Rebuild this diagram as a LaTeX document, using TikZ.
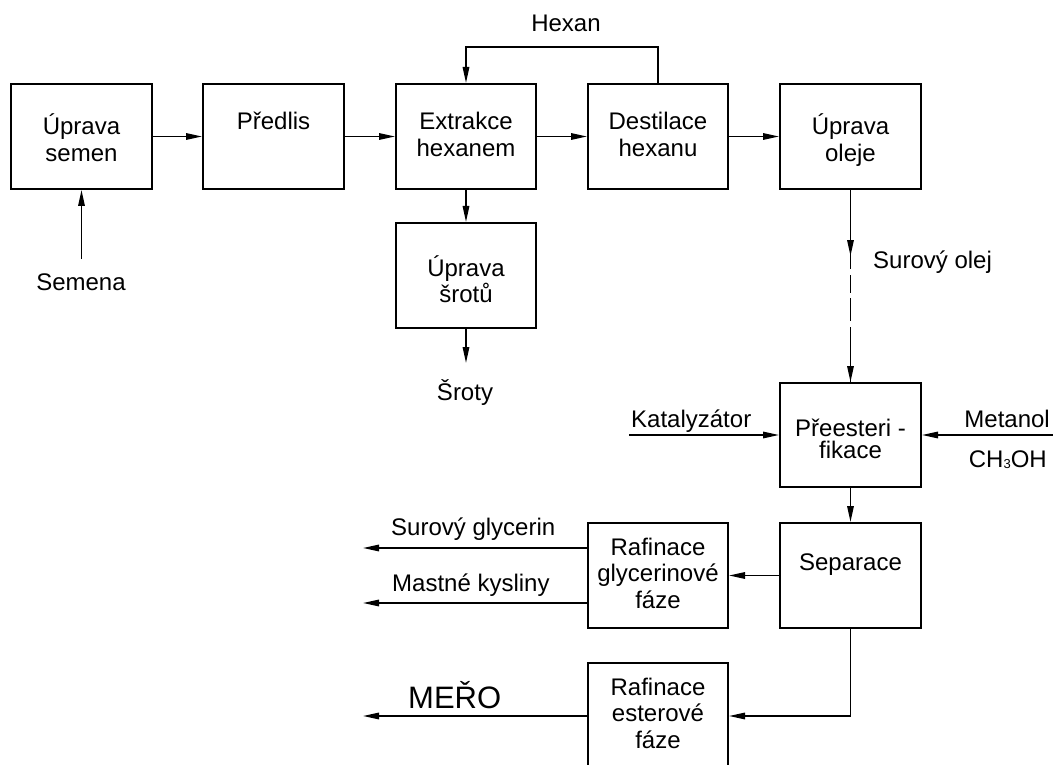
\documentclass[tikz,border=0pt]{standalone}
\usepackage{fontspec}
\setmainfont{Liberation Sans}
\usetikzlibrary{arrows.meta}
\begin{document}
\begin{tikzpicture}[x=1pt,y=-1pt,
  box/.style={draw, line width=2pt, inner sep=0pt, minimum width=140pt, minimum height=105pt},
  flow/.style={line width=1.6pt, -{Triangle[length=16pt,width=6.5pt]}},
  conn/.style={line width=1.6pt},
  txt/.style={font=\fontsize{24}{28}\selectfont, inner sep=0pt, anchor=base},
  txtl/.style={txt, anchor=base west},
  txtr/.style={txt, anchor=base east},
  big/.style={font=\fontsize{31}{34}\selectfont, inner sep=0pt, anchor=base west}]
\useasboundingbox (0,0) rectangle (1053,765);

% boxes
\node[box, minimum width=141pt] (us) at (81.5,136.5) {};
\node[box, minimum width=141pt] (pr) at (273.5,136.5) {};
\node[box] (ex) at (466,136.5) {};
\node[box] (de) at (658,136.5) {};
\node[box, minimum width=141pt] (uo) at (850.5,136.5) {};
\node[box] (sr) at (466,275.5) {};
\node[box, minimum width=141pt, minimum height=104pt] (pf) at (850.5,435) {};
\node[box, minimum width=141pt] (se) at (850.5,575.5) {};
\node[box] (rg) at (658,575.5) {};
\node[box, minimum height=106pt] (re) at (658,716) {};

% box texts
\node[txt] (t1a) at (81.5,135) {Úprava};
\node[txt] (t1b) at (81.5,162) {semen};
\node[txt] (t2) at (273.5,130) {Předlis};
\node[txt] (t3a) at (466,130) {Extrakce};
\node[txt] (t3b) at (466,157) {hexanem};
\node[txt] (t4a) at (658,130) {Destilace};
\node[txt] (t4b) at (658,157) {hexanu};
\node[txt] (t5a) at (850.5,135) {Úprava};
\node[txt] (t5b) at (850.5,162) {oleje};
\node[txt] (t6a) at (466,276.5) {Úprava};
\node[txt] (t6b) at (466,302) {šrotů};
\node[txt] (t7a) at (850.5,436.5) {Přeesteri -};
\node[txt] (t7b) at (850.5,458.5) {fikace};
\node[txt] (t8) at (850.5,570) {Separace};
\node[txt] (t9a) at (658,555) {Rafinace};
\node[txt] (t9b) at (658,581.5) {glycerinové};
\node[txt] (t9c) at (658,608) {fáze};
\node[txt] (t10a) at (658,695) {Rafinace};
\node[txt] (t10b) at (658,721.5) {esterové};
\node[txt] (t10c) at (658,748) {fáze};

% outside labels
\node[txt] (hex) at (566,32) {Hexan};
\node[txt] (semtx) at (81,290) {Semena};
\node[txt] (srtx) at (465,400) {Šroty};
\node[txtl] (olej) at (873,268) {Surový olej};
\node[txtl] (katx) at (631,427) {Katalyzátor};
\node[txtr] (metx) at (1050,427) {Metanol};
\node[txtr] (ch) at (1047,467) {CH{\fontsize{13}{13}\selectfont\raisebox{-1pt}{3}}OH};
\node[txtl] (sg) at (391,535) {Surový glycerin};
\node[txtl] (mk) at (392,591) {Mastné kysliny};
\node[big] (mero) at (408,708) {MEŘO};

% free ends
\coordinate (sem) at (81.5,259);
\coordinate (srt) at (466,363);
\coordinate (d2) at (850.5,340);
\coordinate (kat) at (629,435);
\coordinate (met) at (1053,435);
\coordinate (g1) at (363,548);
\coordinate (g2) at (363,603);
\coordinate (m1) at (363,716);

% connectors
\draw[flow] (sem) -- (us.south);
\draw[flow] (us.east) -- (pr.west);
\draw[flow] (pr.east) -- (ex.west);
\draw[flow] (ex.east) -- (de.west);
\draw[flow] (de.east) -- (uo.west);
\draw[flow] (de.north) -- ++(0,-36) -| (ex.north);
\draw[flow] (ex.south) -- (sr.north);
\draw[flow] (sr.south) -- (srt);
\draw[conn, dash pattern=on 79pt off 6pt on 17.5pt off 5.5pt on 23pt off 6pt on 200pt] (uo.south) -- (pf.north);
\draw[flow] (uo.south) -- ++(0,66);
\draw[flow] (d2) -- (pf.north);
\draw[flow] (kat) -- (pf.west);
\draw[flow] (met) -- (pf.east);
\draw[flow] (pf.south) -- (se.north);
\draw[flow] (se.west) -- (rg.east);
\draw[flow] (se.south) |- (re.east);
\draw[flow] ([yshift=27.5pt]rg.west) -- (g1);
\draw[flow] ([yshift=-27.5pt]rg.west) -- (g2);
\draw[flow] (re.west) -- (m1);
\end{tikzpicture}
\end{document}
